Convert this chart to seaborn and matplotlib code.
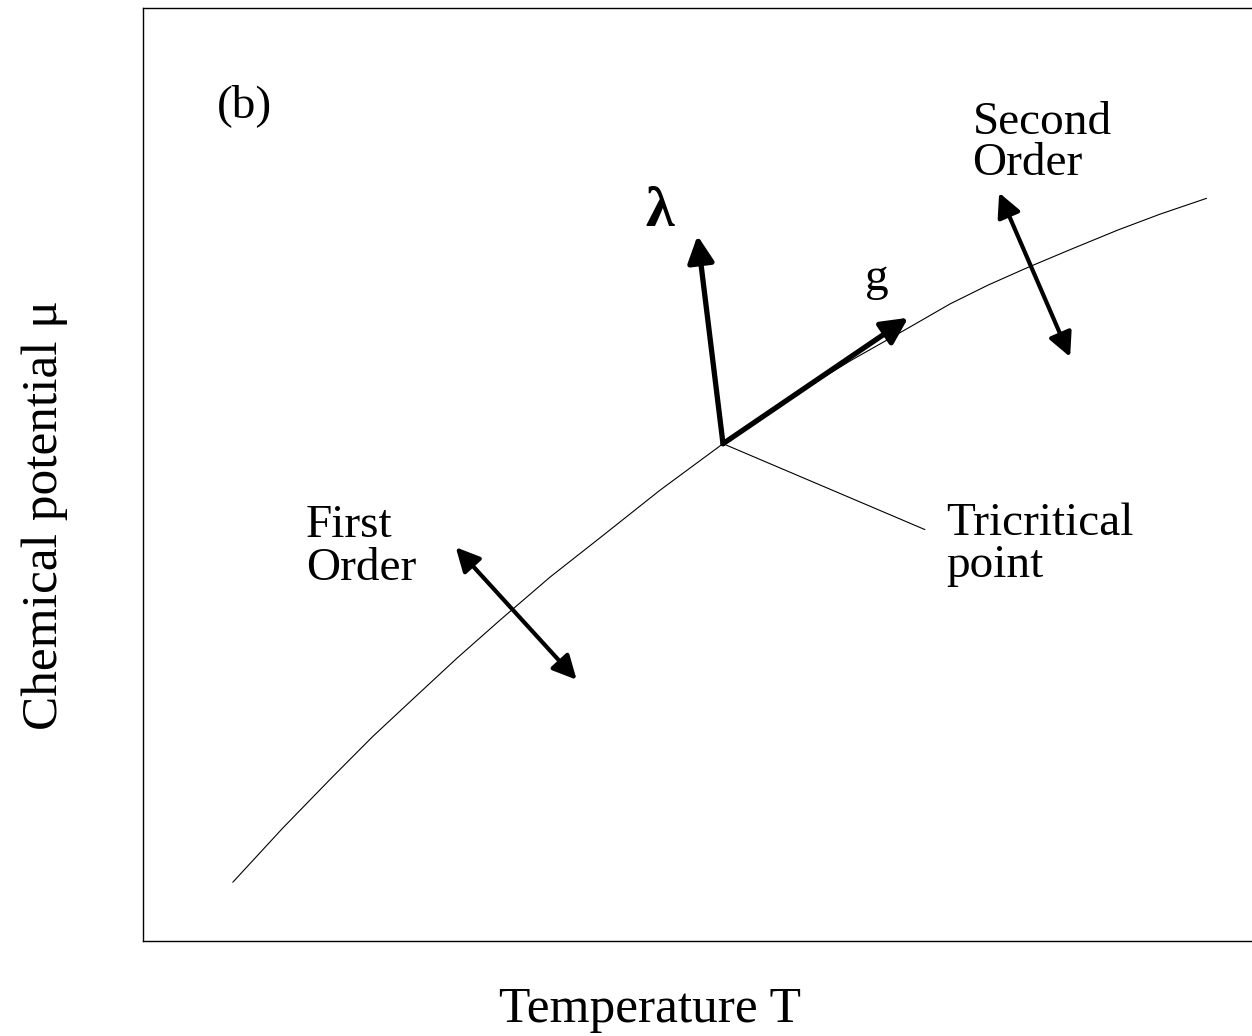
import matplotlib
matplotlib.use("Agg")
import matplotlib.pyplot as plt
import seaborn as sns
import pandas as pd

# Phase boundary in the (T, mu) plane, arbitrary units
temperature = [0.081, 0.126, 0.171, 0.207, 0.244, 0.283, 0.322, 0.367,
               0.413, 0.466, 0.523, 0.556, 0.593, 0.638, 0.690, 0.728,
               0.762, 0.798, 0.836, 0.879, 0.917, 0.959]
chem_potential = [0.063, 0.121, 0.176, 0.219, 0.260, 0.303, 0.344, 0.390,
                  0.433, 0.483, 0.533, 0.560, 0.589, 0.622, 0.657, 0.683,
                  0.703, 0.722, 0.741, 0.762, 0.779, 0.796]

# Tricritical point and scaling-field directions
tricritical = (0.523, 0.533)
lambda_tip = (0.500, 0.756)
g_tip = (0.690, 0.668)

# Double arrows across the first- and second-order parts of the line
first_order_ends = [(0.282, 0.422), (0.391, 0.280)]
second_order_ends = [(0.772, 0.802), (0.836, 0.626)]

# Leader line from the tricritical point to its label
leader_end = (0.705, 0.441)

sns.set_theme(style="white")
plt.rcParams["font.family"] = ["Liberation Serif", "DejaVu Serif"]

fig = plt.figure(figsize=(12.52, 10.36), dpi=100)
ax = fig.add_axes([143 / 1252, 95 / 1036, 1109 / 1252, 933 / 1036])

df = pd.DataFrame({"T": temperature, "mu": chem_potential})
sns.lineplot(data=df, x="T", y="mu", ax=ax, color="black", lw=0.8,
             sort=False, estimator=None)

ax.set_xlim(0, 1)
ax.set_ylim(0, 1)
ax.set_xticks([])
ax.set_yticks([])
ax.set_xlabel("")
ax.set_ylabel("")
for side in ["left", "bottom", "top"]:
    ax.spines[side].set_color("black")
    ax.spines[side].set_linewidth(1.0)
ax.spines["right"].set_visible(False)

# leader line
ax.plot([tricritical[0], leader_end[0]], [tricritical[1], leader_end[1]],
        color="black", lw=0.8)

single = dict(arrowstyle="-|>", lw=3.8, color="black", mutation_scale=40,
              shrinkA=0, shrinkB=0)
double = dict(arrowstyle="<|-|>", lw=3.0, color="black", mutation_scale=36,
              shrinkA=0, shrinkB=0)

ax.annotate("", xy=lambda_tip, xytext=tricritical, arrowprops=single)
ax.annotate("", xy=g_tip, xytext=tricritical, arrowprops=single)
ax.annotate("", xy=first_order_ends[1], xytext=first_order_ends[0], arrowprops=double)
ax.annotate("", xy=second_order_ends[1], xytext=second_order_ends[0], arrowprops=double)

fs = 34
txt = dict(fontsize=fs, ha="left", va="baseline", color="black")
ax.text(0.0667, 0.883, "(b)", **txt)
ax.text(0.453, 0.766, "λ", fontsize=42, ha="left", va="baseline",
        color="black", fontweight="bold")
ax.text(0.651, 0.698, "g", **txt)
ax.text(0.748, 0.865, "Second", **txt)
ax.text(0.748, 0.821, "Order", **txt)
ax.text(0.724, 0.435, "Tricritical", **txt)
ax.text(0.724, 0.390, "point", **txt)
ax.text(0.147, 0.433, "First", **txt)
ax.text(0.147, 0.387, "Order", **txt)

fig.text(650 / 1252, 1 - 1010 / 1036, "Temperature T", fontsize=37,
         ha="center", va="center", color="black")
fig.text(45 / 1252, 1 - 515 / 1036, "Chemical potential μ", fontsize=37,
         ha="center", va="center", rotation=90, color="black")

fig.savefig("out.png", dpi=100, facecolor="white")
